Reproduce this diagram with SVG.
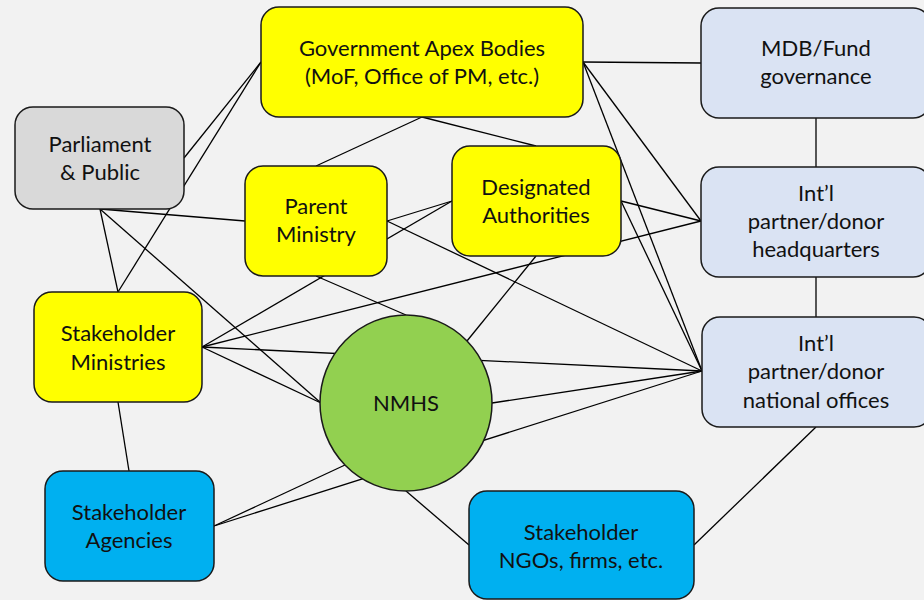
<svg xmlns="http://www.w3.org/2000/svg" width="924" height="600" viewBox="0 0 924 600">
<style>
.bg{fill:#f2f2f2}
.n{stroke:#1a1a1a;stroke-width:1.5}
.y{fill:#ffff00}
.g{fill:#d9d9d9}
.lb{fill:#dae3f3}
.c{fill:#00b0f0}
.gr{fill:#92d050}
.e line{stroke:#000;stroke-width:1.3}
text{font-family:Lato,"Open Sans","Liberation Sans",sans-serif;font-size:22px;fill:#111;text-anchor:middle}
</style>
<rect class="bg" x="0" y="0" width="924" height="600"/>
<g id="connectors" class="e">
<line x1="184" y1="158" x2="261" y2="62"/>
<line x1="118" y1="292" x2="261" y2="62"/>
<line x1="100" y1="209" x2="118" y2="292"/>
<line x1="100" y1="209" x2="245" y2="221"/>
<line x1="100" y1="209" x2="321" y2="403"/>
<line x1="422" y1="117" x2="316" y2="166"/>
<line x1="422" y1="117" x2="536" y2="146"/>
<line x1="583" y1="62" x2="701" y2="63"/>
<line x1="583" y1="62" x2="701" y2="221"/>
<line x1="583" y1="62" x2="702" y2="371"/>
<line x1="621" y1="201" x2="701" y2="221"/>
<line x1="621" y1="201" x2="702" y2="371"/>
<line x1="387" y1="221" x2="452" y2="201"/>
<line x1="387" y1="221" x2="702" y2="371"/>
<line x1="316" y1="276" x2="406" y2="315"/>
<line x1="202" y1="347" x2="452" y2="201"/>
<line x1="202" y1="347" x2="701" y2="221"/>
<line x1="202" y1="347" x2="702" y2="371"/>
<line x1="202" y1="347" x2="321" y2="403"/>
<line x1="118" y1="402" x2="129" y2="471"/>
<line x1="214" y1="526" x2="345" y2="465"/>
<line x1="214" y1="526" x2="702" y2="371"/>
<line x1="536" y1="256" x2="467" y2="341"/>
<line x1="492" y1="403" x2="702" y2="371"/>
<line x1="406" y1="491" x2="469" y2="545"/>
<line x1="694" y1="545" x2="816" y2="427"/>
<line x1="816" y1="118" x2="816" y2="167"/>
<line x1="816" y1="277" x2="816" y2="317"/>
</g>
<g id="gov">
<rect class="n y" x="261" y="7" width="322" height="110" rx="18"/>
<text x="422" y="56">Government Apex Bodies</text>
<text x="422" y="84">(MoF, Office of PM, etc.)</text>
</g>
<g id="parliament">
<rect class="n g" x="15" y="107" width="169" height="102" rx="18"/>
<text x="100" y="152">Parliament</text>
<text x="100" y="180">&amp; Public</text>
</g>
<g id="parent">
<rect class="n y" x="245" y="166" width="142" height="110" rx="18"/>
<text x="316" y="214">Parent</text>
<text x="316" y="242">Ministry</text>
</g>
<g id="designated">
<rect class="n y" x="452" y="146" width="169" height="110" rx="18"/>
<text x="536" y="195">Designated</text>
<text x="536" y="223">Authorities</text>
</g>
<g id="mdb">
<rect class="n lb" x="701" y="8" width="230" height="110" rx="18"/>
<text x="816" y="56">MDB/Fund</text>
<text x="816" y="84">governance</text>
</g>
<g id="hq">
<rect class="n lb" x="701" y="167" width="230" height="110" rx="18"/>
<text x="816" y="201">Int’l</text>
<text x="816" y="229">partner/donor</text>
<text x="816" y="257">headquarters</text>
</g>
<g id="national">
<rect class="n lb" x="702" y="317" width="230" height="110" rx="18"/>
<text x="816" y="351">Int’l</text>
<text x="816" y="379">partner/donor</text>
<text x="816" y="408">national offices</text>
</g>
<g id="ministries">
<rect class="n y" x="34" y="292" width="168" height="110" rx="18"/>
<text x="118" y="341">Stakeholder</text>
<text x="118" y="370">Ministries</text>
</g>
<g id="agencies">
<rect class="n c" x="45" y="471" width="169" height="110" rx="18"/>
<text x="129" y="520">Stakeholder</text>
<text x="129" y="548">Agencies</text>
</g>
<g id="ngos">
<rect class="n c" x="469" y="491" width="225" height="108" rx="18"/>
<text x="581" y="540">Stakeholder</text>
<text x="581" y="568">NGOs, firms, etc.</text>
</g>
<g id="nmhs">
<ellipse class="n gr" cx="406" cy="403" rx="86" ry="88"/>
<text x="406" y="411">NMHS</text>
</g>
</svg>
